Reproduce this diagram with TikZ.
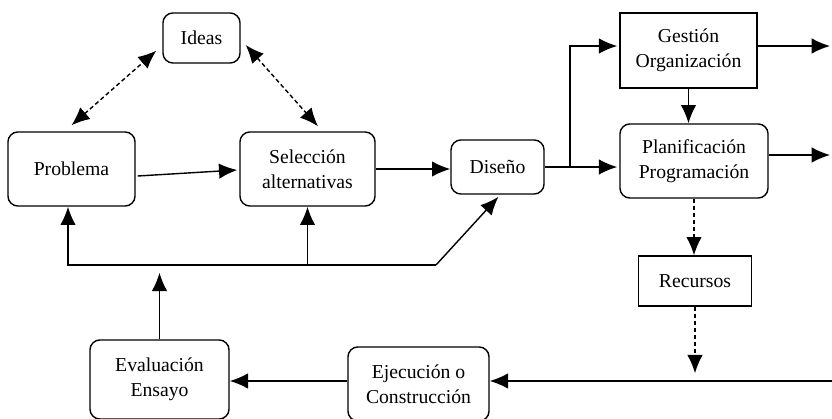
\documentclass[tikz,border=0pt]{standalone}
\usepackage{fontspec}
\setmainfont{Liberation Serif}
\usetikzlibrary{arrows.meta}

\begin{document}
\begin{tikzpicture}[x=0.025cm,y=-0.025cm,line width=1pt,
  >={Latex[length=13pt,width=11pt]},
  caja/.style={draw,rounded corners=7pt,align=center,inner sep=0pt,
    font=\fontsize{14}{17.8}\selectfont},
  cajarec/.style={caja,rounded corners=0pt},
  punteada/.style={dash pattern=on 3pt off 2pt}]

\useasboundingbox (0,0) rectangle (832,419);

\node[caja,minimum width=1.925cm,minimum height=1.25cm] (ideas) at (201.5,38) {Ideas};
\node[caja,minimum width=3.175cm,minimum height=1.85cm] (prob) at (71.5,169) {Problema};
\node[caja,minimum width=3.375cm,minimum height=1.85cm] (sel) at (307.5,169) {Selección\\alternativas};
\node[caja,minimum width=2.325cm,minimum height=1.35cm] (dis) at (497.5,167) {Diseño};
\node[cajarec,minimum width=3.425cm,minimum height=1.875cm] (gest) at (688.5,50.5) {Gestión\\Organización};
\node[caja,minimum width=3.7cm,minimum height=1.85cm] (plan) at (694,161) {Planificación\\Programación};
\node[cajarec,minimum width=2.825cm,minimum height=1.25cm] (rec) at (695,281) {Recursos};
\node[caja,minimum width=3.475cm,minimum height=1.975cm] (eval) at (159.5,379.5) {Evaluación\\Ensayo};
\node[caja,minimum width=3.525cm,minimum height=1.85cm] (ejec) at (418.5,384) {Ejecución o\\Construcción};

\coordinate (rama) at (570,167);
\coordinate (gsal) at (830,46);
\coordinate (psal) at (830,155);
\coordinate (rent) at (832,381);
\coordinate (fbizq) at (68,265);
\coordinate (fbder) at (436,265);

\draw [punteada,<->] ([shift={(0,-6)}]prob.north) -- ([shift={(-6,-13)}]ideas.south west);
\draw [punteada,<->] ([shift={(5,7)}]ideas.east) -- ([shift={(10.5,-5)}]sel.north);
\draw [->] ([shift={(2,7)}]prob.east) -- ([shift={(-2,1)}]sel.west);
\draw [->] (sel.east) -- (sel.east -| dis.west);

\draw [->] (dis.east) -- (rama) |- ([xshift=-1.5pt]gest.west |- gsal);
\draw [->] (rama) -- ([xshift=-1.5pt]rama -| plan.west);
\draw [->] (gest.east |- gsal) -- (gsal);
\draw [->] (plan.east |- psal) -- (psal);
\draw [->] (gest.south) -- (gest.south |- plan.north);
\draw [punteada,->] (plan.south) -- (plan.south |- rec.north);
\draw [punteada,->,shorten >=5.5pt] (rec.south) -- (rec.south |- rent);

\draw [->] (rent) -- (ejec.east |- rent);
\draw [->] (ejec.west |- rent) -- (eval.east |- rent);
\draw [->,shorten >=5.5pt] (eval.north) -- (eval.north |- fbizq);

\draw [->] (fbder) -- (fbizq) -- (fbizq |- prob.south);
\draw [->] (sel.south |- fbizq) -- (sel.south);
\draw [->,shorten >=2pt] (fbder) -- ([xshift=2pt]dis.south);

\end{tikzpicture}
\end{document}
